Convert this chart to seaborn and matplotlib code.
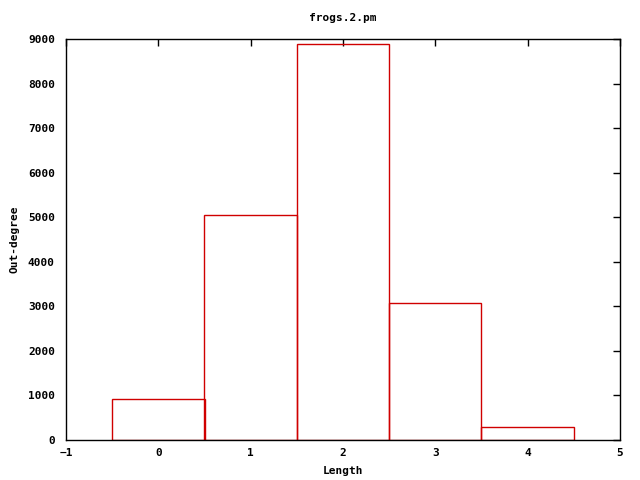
import matplotlib
matplotlib.use("Agg")
import matplotlib.pyplot as plt
import seaborn as sns
import pandas as pd

lengths = [0, 1, 2, 3, 4]
out_degree = [910, 5060, 8880, 3065, 290]

sns.set_style("white")
plt.rcParams['font.family'] = ['DejaVu Sans Mono', 'DejaVu Sans']
plt.rcParams['font.weight'] = 'bold'
plt.rcParams['text.color'] = 'black'
plt.rcParams['axes.labelcolor'] = 'black'
plt.rcParams['xtick.color'] = 'black'
plt.rcParams['ytick.color'] = 'black'

df = pd.DataFrame({"Length": lengths, "Out-degree": out_degree})

fig = plt.figure(figsize=(6.4, 4.8), dpi=100)
ax = fig.add_axes([66/640, 40/480, (620-66)/640, (440-39)/480])
sns.barplot(data=df, x="Length", y="Out-degree", native_scale=True, width=1,
            fill=False, edgecolor="#d00000", linewidth=1, ax=ax, errorbar=None)
ax.set_xlim(-1, 5)
ax.set_ylim(0, 9000)
ax.set_xticks(range(-1, 6))
ax.set_yticks(range(0, 9001, 1000))
ax.tick_params(direction='in', top=True, right=True, length=5, width=1, labelsize=8,
               colors='black')
ax.tick_params(axis='y', pad=8)
ax.tick_params(axis='x', pad=6)
for lab in ax.get_xticklabels() + ax.get_yticklabels():
    lab.set_fontweight('bold')
for s in ax.spines.values():
    s.set_visible(True)
    s.set_color('black')
    s.set_linewidth(1)
ax.set_xlabel("Length", fontsize=8, fontweight='bold')
ax.set_ylabel("Out-degree", fontsize=8, fontweight='bold')
ax.xaxis.set_label_coords(0.5, -0.066)
ax.yaxis.set_label_coords(-0.084, 0.5)
ax.set_title("frogs.2.pm", fontsize=8, fontweight='bold', pad=13)
fig.savefig("out.png", dpi=100)
